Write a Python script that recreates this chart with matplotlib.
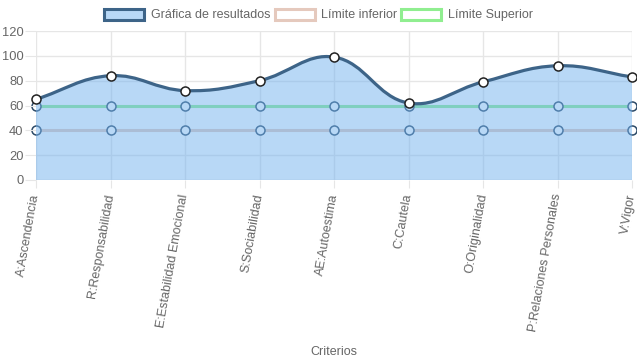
import matplotlib.pyplot as plt
import numpy as np
from matplotlib.path import Path
from matplotlib.patches import PathPatch, Patch

plt.rcParams['font.family'] = ['Liberation Sans', 'DejaVu Sans']

criterios = ["A:Ascendencia", "R:Responsabilidad", "E:Estabilidad Emocional",
             "S:Sociabilidad", "AE:Autoestima", "C:Cautela", "O:Originalidad",
             "P:Relaciones Personales", "V:Vigor"]
resultados = [65, 84, 72, 80, 99, 62, 79, 92, 83]
limite_inferior = [40, 40, 40, 40, 40, 40, 40, 40, 40]
limite_superior = [60, 60, 60, 60, 60, 60, 60, 60, 60]
y_ticks = [0, 20, 40, 60, 80, 100, 120]

LINE = "#3d6488"
FILL = (114/255, 178/255, 238/255, 0.5)
LOW = "#e5c9bd"
UP = "#90ee90"
TXT = "#666666"
GRID = "#e6e6e6"

fig = plt.figure(figsize=(6.37, 3.59), dpi=100)
ax = fig.add_axes([36/637, 1 - 180/359, 596/637, 149/359])
x = np.arange(len(criterios))
ax.set_xlim(0, len(criterios) - 1)
ax.set_ylim(0, 120)


def spline_path(xs, ys, t=0.4):
    # bezier como Chart.js (tension 0.4), distancias en pixeles
    pts = ax.transData.transform(np.column_stack([xs, ys]))
    data = np.column_stack([xs, ys]).astype(float)
    n = len(xs)
    cps = []
    for i in range(n):
        p = data[max(i - 1, 0)]
        c = data[i]
        nx = data[min(i + 1, n - 1)]
        pp = pts[max(i - 1, 0)]
        cc = pts[i]
        nn = pts[min(i + 1, n - 1)]
        d01 = np.hypot(*(cc - pp))
        d12 = np.hypot(*(nn - cc))
        tot = d01 + d12
        s01 = d01 / tot if tot else 0
        s12 = d12 / tot if tot else 0
        cps.append((c - t * s01 * (nx - p), c + t * s12 * (nx - p)))
    verts = [data[0]]
    codes = [Path.MOVETO]
    for i in range(n - 1):
        verts += [cps[i][1], cps[i + 1][0], data[i + 1]]
        codes += [Path.CURVE4] * 3
    return verts, codes


# rejilla
for v in y_ticks:
    ax.axhline(v, color="#cfcfcf" if v == 0 else GRID, lw=1, zorder=0)
for xi in x:
    ax.axvline(xi, color=GRID, lw=1, zorder=0)

# limites (debajo del relleno)
ax.plot(x, limite_inferior, color=LOW, lw=2.2, marker="o", ms=6.5,
        mfc="white", mec="#2c4a68", mew=1.1, zorder=1, clip_on=False)
ax.plot(x, limite_superior, color=UP, lw=2.2, marker="o", ms=6.5,
        mfc="white", mec="#2c4a68", mew=1.1, zorder=1, clip_on=False)

verts, codes = spline_path(x, resultados)
fill_verts = verts + [(x[-1], 0), (x[0], 0), verts[0]]
fill_codes = codes + [Path.LINETO, Path.LINETO, Path.CLOSEPOLY]
ax.add_patch(PathPatch(Path(fill_verts, fill_codes), facecolor=FILL,
                       edgecolor="none", zorder=2))
ax.add_patch(PathPatch(Path(verts, codes), facecolor="none", edgecolor=LINE,
                       lw=2.3, zorder=3, capstyle="round"))
ax.plot(x, resultados, ls="none", marker="o", ms=6.5, mfc="white",
        mec="#222222", mew=1.1, zorder=4, clip_on=False)

for s in ax.spines.values():
    s.set_visible(False)

ax.set_yticks(y_ticks)
ax.tick_params(axis="y", length=8, color=GRID, labelcolor=TXT, labelsize=9.3, pad=1)
ax.set_xticks(x)
ax.set_xticklabels(criterios, rotation=80, ha="right", va="center",
                   rotation_mode="anchor", fontsize=9, color=TXT)
ax.tick_params(axis="x", length=6, color=GRID, pad=4)
ax.set_xlabel("Criterios", color=TXT, fontsize=9)
ax.xaxis.set_label_coords(0.5, -(346 - 180) / 149)

handles = [Patch(facecolor=FILL, edgecolor=LINE, lw=2.2),
           Patch(facecolor="white", edgecolor=LOW, lw=2.2),
           Patch(facecolor="white", edgecolor=UP, lw=2.2)]
fig.legend(handles, ["Gráfica de resultados", "Límite inferior", "Límite Superior"],
           loc="center", bbox_to_anchor=(0.5, 1 - 15 / 359), ncol=3, frameon=False,
           fontsize=9, labelcolor=TXT, handlelength=3.2, handleheight=1.0,
           handletextpad=0.5, columnspacing=0.35)

fig.savefig("out.png", dpi=100)
